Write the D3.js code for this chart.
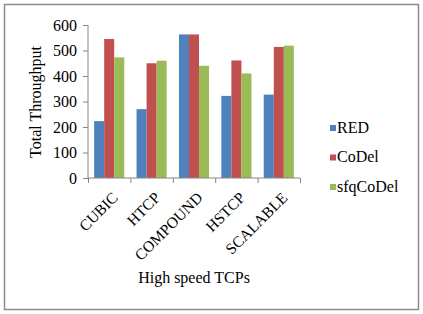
<!DOCTYPE html>
<html><head><meta charset="utf-8">
<script src="https://cdn.jsdelivr.net/npm/d3@7"></script>
<style>body{margin:0;background:#fff}svg{display:block}svg text{font-family:"Liberation Serif","Times New Roman",serif;fill:#000}</style>
</head><body>
<script>
const categories = ["CUBIC","HTCP","COMPOUND","HSTCP","SCALABLE"];
const seriesNames = ["RED","CoDel","sfqCoDel"];
const RED = [223,270,563,322,327];
const CoDel = [545,450,563,461,514];
const sfqCoDel = [473,460,440,410,519];
const yTicks = [0,100,200,300,400,500,600];
const colors = ["#4F81BD","#C0504D","#9BBB59"];
const seriesData = [RED, CoDel, sfqCoDel];

(function(){
const W=423,H=314;
const svg=d3.select("body").append("svg").attr("width",W).attr("height",H);
svg.append("rect").attr("x",4.5).attr("y",4.5).attr("width",414).attr("height",305)
  .attr("fill","#fff").attr("stroke","#8c8c8c").attr("stroke-width",1.5);

const pL=88,pR=300,pT=25,pB=178;
const x=d3.scaleBand().domain(categories).range([pL,pR]).paddingInner(0.29).paddingOuter(0.145);
const xs=d3.scaleBand().domain(seriesNames).range([0,x.bandwidth()]);
const y=d3.scaleLinear().domain([0,600]).range([pB,pT]);

const g=svg.append("g");
seriesNames.forEach((s,si)=>{
  g.selectAll(null).data(categories).enter().append("rect")
    .attr("x",d=>x(d)+xs(s)).attr("width",xs.bandwidth())
    .attr("y",(d,i)=>y(seriesData[si][i])).attr("height",(d,i)=>pB-y(seriesData[si][i]))
    .attr("fill",colors[si]);
});

const yAxis=svg.append("g").attr("transform",`translate(${pL},0)`)
  .call(d3.axisLeft(y).tickValues(yTicks).tickSize(5).tickPadding(6));
const xAxis=svg.append("g").attr("transform",`translate(0,${pB})`)
  .call(d3.axisBottom(d3.scaleLinear().domain([0,5]).range([pL,pR])).ticks(5).tickSize(5).tickFormat(""));
yAxis.attr("font-family",null); xAxis.attr("font-family",null);
yAxis.selectAll("path,line").attr("stroke","#868686");
xAxis.selectAll("path,line").attr("stroke","#868686");
yAxis.select(".domain").attr("d",`M0,${pT}V${pB}`);
xAxis.select(".domain").attr("d",`M${pL},0H${pR}`);
yAxis.selectAll("text").style("font-size","16px");

svg.append("g").selectAll("text").data(categories).enter().append("text")
  .attr("transform",d=>`translate(${x(d)+x.bandwidth()/2+2},${pB+13}) rotate(-45)`)
  .attr("text-anchor","end").attr("dy","0.7em")
  .style("font-size","15.5px").text(d=>d);

svg.append("text").attr("transform",`translate(41,102) rotate(-90)`).attr("text-anchor","middle")
  .style("font-size","16px").text("Total Throughput");
svg.append("text").attr("x",194).attr("y",283).attr("text-anchor","middle")
  .style("font-size","16px").text("High speed TCPs");

const lg=svg.append("g");
seriesNames.forEach((s,i)=>{
  const cy=127+i*29.5;
  lg.append("rect").attr("x",330).attr("y",cy-2).attr("width",6).attr("height",6).attr("fill",colors[i]);
  lg.append("text").attr("x",337).attr("y",cy+5.5).style("font-size","16px").text(s);
});
})();
</script>
</body></html>
